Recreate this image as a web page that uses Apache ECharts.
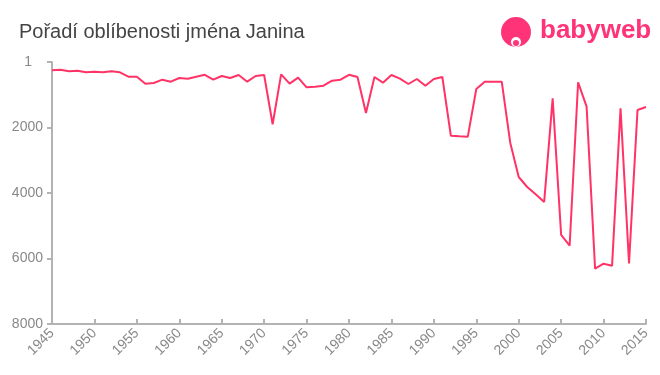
<!DOCTYPE html>
<html><head><meta charset="utf-8">
<script src="https://cdn.jsdelivr.net/npm/echarts@6/dist/echarts.min.js"></script>
<style>html,body{margin:0;padding:0;background:#fff}#c{width:660px;height:375px}</style>
</head><body><div id="c"></div>
<script>
const years = [];
for (let y = 1945; y <= 2015; y++) years.push(String(y));
const ranks = [
 254,235,285,265,315,295,315,285,315,448,
 448,662,641,540,601,489,509,448,390,540,
 427,489,397,601,427,397,1900,376,662,478,
 774,753,723,570,540,390,458,1560,458,631,
 397,509,672,519,723,519,458,2250,2270,2280,
 824,601,601,601,2463,3511,3817,4040,4275,1109,
 5282,5609,620,1364,6311,6158,6219,1415,6148,1466,
 1374
];
const yTicks = [0, 2000, 4000, 6000, 8000];
const title = 'Pořadí oblíbenosti jména Janina';

const chart = echarts.init(document.getElementById('c'));
chart.setOption({
  animation: false,
  title: { text: title, left: 19, top: 22, padding: 0, textStyle: { fontFamily: 'Liberation Sans, Arial, sans-serif', fontSize: 20, fontWeight: 'normal', color: '#444' } },
  grid: { left: 52, right: 14, top: 62, bottom: 51 },
  xAxis: {
    type: 'category', data: years, boundaryGap: false, position: 'bottom',
    axisLine: { onZero: false, lineStyle: { color: '#b3b3b3', width: 2 } },
    axisTick: { interval: 4, inside: true, length: 5, lineStyle: { color: '#b3b3b3', width: 2 } },
    axisLabel: { interval: 4, rotate: 45, color: '#888', fontSize: 14, fontFamily: 'Liberation Sans, Arial, sans-serif', margin: 7 }
  },
  yAxis: {
    type: 'value', inverse: true, min: yTicks[0], max: yTicks[yTicks.length-1], interval: 2000,
    splitLine: { show: false },
    axisLine: { show: true, lineStyle: { color: '#b3b3b3', width: 2 } },
    axisTick: { show: true, length: 5, lineStyle: { color: '#b3b3b3', width: 2 } },
    axisLabel: { color: '#888', fontSize: 14, fontFamily: 'Liberation Sans, Arial, sans-serif', margin: 9,
      formatter: v => v === 0 ? '{one|1}' : String(v),
      rich: { one: { color: '#888', fontSize: 14, padding: [0, 11, 0, 0] } } }
  },
  series: [{
    type: 'line', data: ranks, symbol: 'none',
    lineStyle: { color: '#ff3366', width: 2 }
  }],
  graphic: [
    { type: 'circle', shape: { cx: 516, cy: 32, r: 15 }, style: { fill: '#ff3377' } },
    { type: 'circle', shape: { cx: 516, cy: 42, r: 5 }, style: { fill: '#fff' } },
    { type: 'circle', shape: { cx: 516, cy: 43, r: 3 }, style: { fill: '#ff3377' } },
    { type: 'text', left: 540, top: 18, style: { text: 'babyweb', fill: '#ff3377', fontSize: 26, fontWeight: 'bold', fontFamily: 'Liberation Sans, Arial, sans-serif' } }
  ]
});
</script></body></html>
